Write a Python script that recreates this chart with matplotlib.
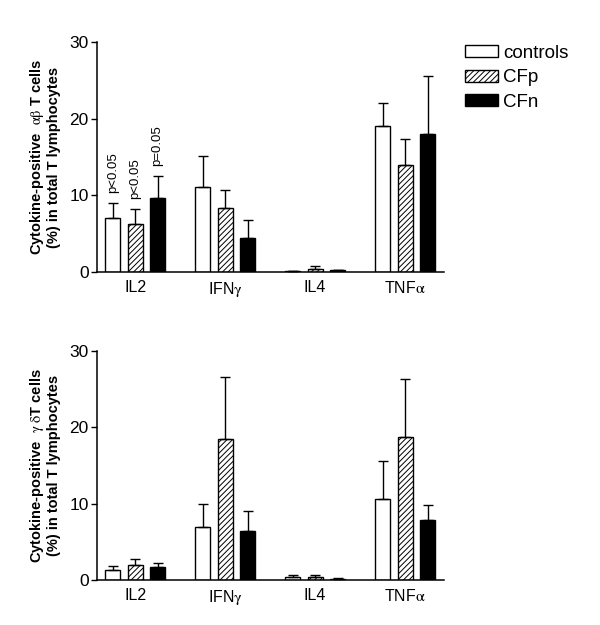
import matplotlib
matplotlib.use("Agg")
import matplotlib.pyplot as plt
import numpy as np
from matplotlib.patches import Patch

# ----- Data -----
cytokines = ["IL2", r"IFN$\mathrm{\gamma}$", "IL4", r"TNF$\mathrm{\alpha}$"]
groups = ["controls", "CFp", "CFn"]

ab_controls = [7.0, 11.1, 0.1, 19.1]
ab_controls_err = [1.95, 4.0, 0.0, 2.9]
ab_cfp = [6.2, 8.3, 0.4, 13.9]
ab_cfp_err = [2.05, 2.35, 0.4, 3.5]
ab_cfn = [9.7, 4.5, 0.2, 18.0]
ab_cfn_err = [2.8, 2.25, 0.1, 7.6]

gd_controls = [1.3, 6.9, 0.4, 10.55]
gd_controls_err = [0.5, 3.05, 0.3, 4.95]
gd_cfp = [1.9, 18.4, 0.4, 18.75]
gd_cfp_err = [0.9, 8.2, 0.2, 7.55]
gd_cfn = [1.75, 6.4, 0.15, 7.85]
gd_cfn_err = [0.45, 2.6, 0.05, 2.0]

ab_pvals = ["p<0.05", "p<0.05", "p=0.05"]

plt.rcParams["font.family"] = ["Liberation Sans", "DejaVu Sans"]
plt.rcParams["mathtext.fontset"] = "stix"
plt.rcParams["hatch.linewidth"] = 0.7

styles = [
    dict(facecolor="white", edgecolor="black", hatch=None),
    dict(facecolor="white", edgecolor="black", hatch="//////"),
    dict(facecolor="black", edgecolor="black", hatch=None),
]

width = 0.167
offsets = [-0.25, 0.0, 0.25]


def draw_panel(ax, series, errs, ylabel):
    x = np.arange(len(cytokines))
    for vals, err, off, st in zip(series, errs, offsets, styles):
        ax.bar(x + off, vals, width=width, linewidth=1.0, zorder=2, **st)
        ax.errorbar(x + off, vals, yerr=[np.zeros(len(err)), err], fmt="none",
                    ecolor="black", elinewidth=1.0, capsize=3.5, capthick=1.0, zorder=3)
    ax.set_xlim(-0.422, 3.433)
    ax.set_ylim(0, 30)
    ax.set_yticks([0, 10, 20, 30])
    ax.set_xticks(x)
    ax.set_xticklabels(cytokines, fontsize=11.5)
    ax.tick_params(axis="x", length=0, pad=6)
    ax.tick_params(axis="y", labelsize=12.5, length=4, width=1.0, direction="out", pad=2)
    for s in ["top", "right"]:
        ax.spines[s].set_visible(False)
    for s in ["left", "bottom"]:
        ax.spines[s].set_linewidth(1.1)
    ax.set_ylabel(ylabel, fontsize=10.5, fontweight="bold", labelpad=6, linespacing=1.15)


fig = plt.figure(figsize=(6, 6.25), dpi=100)
ax1 = fig.add_axes([0.162, 0.5648, 0.578, 0.368])
ax2 = fig.add_axes([0.162, 0.072, 0.578, 0.367])

draw_panel(ax1, [ab_controls, ab_cfp, ab_cfn], [ab_controls_err, ab_cfp_err, ab_cfn_err],
           "Cytokine-positive  $\\mathrm{\\alpha\\beta}$ T cells\n(%) in total T lymphocytes")
draw_panel(ax2, [gd_controls, gd_cfp, gd_cfn], [gd_controls_err, gd_cfp_err, gd_cfn_err],
           "Cytokine-positive  $\\mathrm{\\gamma\\ \\delta}$T cells\n(%) in total T lymphocytes")

# p-value annotations above IL2 bars
il2_tops = [ab_controls[0] + ab_controls_err[0], ab_cfp[0] + ab_cfp_err[0], ab_cfn[0] + ab_cfn_err[0]]
for off, top, txt in zip(offsets, il2_tops, ab_pvals):
    ax1.text(0 + off, top + 1.3, txt, rotation=90, ha="center", va="bottom", fontsize=9.5)

handles = [Patch(linewidth=1.0, **st) for st in styles]
fig.legend(handles, groups, loc="upper left", bbox_to_anchor=(0.775, 0.928),
           frameon=False, fontsize=13.5, handlelength=1.76, handleheight=0.6,
           handletextpad=0.27, labelspacing=0.39, borderaxespad=0, borderpad=0)

fig.savefig("out.png", dpi=100)
